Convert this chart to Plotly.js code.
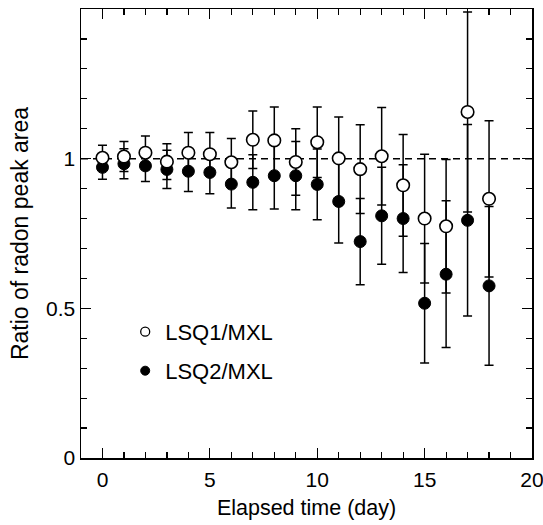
<!DOCTYPE html>
<html>
<head>
<meta charset="utf-8">
<script src="https://cdn.plot.ly/plotly-3.0.1.min.js"></script>
<style>html,body{margin:0;padding:0;background:#fff;}#chart{width:543px;height:525px;}</style>
</head>
<body>
<div id="chart"></div>
<script>
// Elapsed time (day)
const days = [0,1,2,3,4,5,6,7,8,9,10,11,12,13,14,15,16,17,18];
// LSQ1/MXL ratio (open circles) and its uncertainty
const lsq1 = [1.003,1.007,1.020,0.990,1.020,1.015,0.988,1.063,1.061,0.989,1.055,1.001,0.965,1.008,0.911,0.800,0.774,1.156,0.866];
const lsq1Err = [0.042,0.050,0.056,0.060,0.067,0.072,0.079,0.096,0.112,0.111,0.118,0.138,0.148,0.163,0.170,0.215,0.223,0.334,0.261];
// LSQ2/MXL ratio (filled circles) and its uncertainty
const lsq2 = [0.971,0.983,0.976,0.964,0.958,0.954,0.915,0.921,0.943,0.943,0.914,0.857,0.723,0.809,0.800,0.517,0.614,0.794,0.575];
const lsq2Err = [0.040,0.050,0.052,0.064,0.068,0.071,0.080,0.092,0.111,0.114,0.118,0.139,0.144,0.162,0.180,0.200,0.245,0.320,0.265];
// Tick labels
const xTicks = [0,5,10,15,20];
const yTicks = [0,0.5,1];
const yTickText = ['0','0.5','1'];
const names = ['LSQ1/MXL','LSQ2/MXL'];

const FONT = 'Liberation Sans, Arial, Helvetica, sans-serif';
const errStyle = {type:'data', visible:true, color:'#000', thickness:1.5, width:4.5};

const traces = [
  {x: days, y: lsq2, type:'scatter', mode:'markers', showlegend:false,
   error_y: Object.assign({array: lsq2Err}, errStyle),
   marker:{symbol:'circle', size:12, color:'#000', line:{color:'#000', width:1}}},
  {x: days, y: lsq1, type:'scatter', mode:'markers', showlegend:false,
   error_y: Object.assign({array: lsq1Err}, errStyle),
   marker:{symbol:'circle', size:12.5, color:'#fff', line:{color:'#000', width:1.6}}},
  // legend-only entries
  {x:[null], y:[null], type:'scatter', mode:'markers', name: names[0], legend:'legend',
   marker:{symbol:'circle', size:9, color:'#fff', line:{color:'#000', width:1.3}}},
  {x:[null], y:[null], type:'scatter', mode:'markers', name: names[1], legend:'legend2',
   marker:{symbol:'circle', size:9, color:'#000', line:{color:'#000', width:1}}}
];

const axisCommon = {
  showline:true, linecolor:'#000', linewidth:1.5, mirror:'allticks',
  ticks:'inside', tickcolor:'#000', tickwidth:1.2, ticklen:10,
  showgrid:false, zeroline:false, ticklabeloverflow:'allow',
  tickfont:{family:FONT, size:21, color:'#000'}
};

const layout = {
  width:543, height:525,
  margin:{l:81, r:11, t:9, b:67},
  paper_bgcolor:'#fff', plot_bgcolor:'#fff',
  font:{family:FONT, color:'#000'},
  xaxis: Object.assign({}, axisCommon, {
    range:[-1,20], tickvals:xTicks, ticktext:xTicks.map(String), ticklabelstandoff:2,
    minor:{dtick:1, tick0:0, ticks:'inside', ticklen:6, tickcolor:'#000', tickwidth:1.2},
    title:{text:'Elapsed time (day)', font:{family:FONT, size:21.5, color:'#000'}, standoff:10}
  }),
  yaxis: Object.assign({}, axisCommon, {
    range:[0,1.5], tickvals:yTicks, ticktext:yTickText,
    minor:{dtick:0.1, tick0:0, ticks:'inside', ticklen:6, tickcolor:'#000', tickwidth:1.2},
    title:{text:'Ratio of radon peak area', font:{family:FONT, size:23, color:'#000'}, standoff:11}
  }),
  shapes:[{type:'line', xref:'paper', x0:0, x1:1, yref:'y', y0:1, y1:1, layer:'below',
           line:{color:'#000', width:1.5, dash:'7px,5px'}}],
  legend:{x:0.098, y:0.281, xanchor:'left', yanchor:'middle', bgcolor:'rgba(0,0,0,0)',
          font:{family:FONT, size:22, color:'#000'}, itemwidth:30},
  legend2:{x:0.098, y:0.194, xanchor:'left', yanchor:'middle', bgcolor:'rgba(0,0,0,0)',
          font:{family:FONT, size:22, color:'#000'}, itemwidth:30}
};

Plotly.newPlot('chart', traces, layout, {displayModeBar:false, staticPlot:true});
</script>
</body>
</html>
